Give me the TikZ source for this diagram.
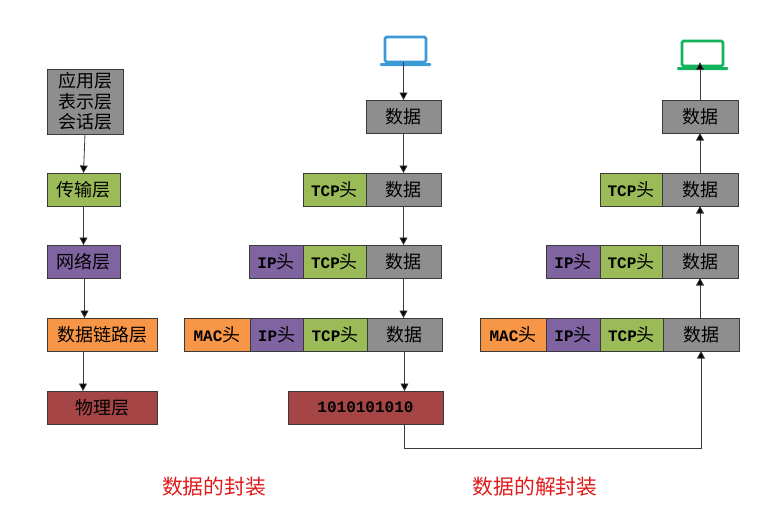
\documentclass[tikz,border=0pt]{standalone}
\usepackage{fontspec}
\setmainfont{Liberation Serif}
\setmonofont{Liberation Mono}
\newfontfamily\cjk{Noto Sans CJK SC}
\usetikzlibrary{arrows.meta,calc}
\definecolor{cgray}{HTML}{8E8E8E}
\definecolor{cgreen}{HTML}{9BBB59}
\definecolor{cpurple}{HTML}{8064A2}
\definecolor{corange}{HTML}{F79646}
\definecolor{cred}{HTML}{A54545}
\definecolor{cblue}{HTML}{3C9BD6}
\definecolor{cgrn}{HTML}{12B35C}
\definecolor{cedge}{HTML}{3A3A3A}
\definecolor{ctitle}{HTML}{E01A1A}
\newcommand{\lat}[1]{{\ttfamily\bfseries\fontsize{16}{21}\selectfont #1}}
\tikzset{
  x=1pt,y=-1pt,
  cellbox/.style={draw=cedge,line width=1pt,inner sep=0pt,outer sep=0pt,anchor=north west,align=center,text=black,font=\cjk\fontsize{18}{20.5}\selectfont},
  gbox/.style={cellbox,fill=cgray},
  tbox/.style={cellbox,fill=cgreen},
  pbox/.style={cellbox,fill=cpurple},
  obox/.style={cellbox,fill=corange},
  rbox/.style={cellbox,fill=cred},
  link/.style={draw=cedge,line width=0.8pt,-{Triangle[length=7.5pt,width=8pt,fill=black]}},
  screen/.style={draw=#1,line width=2.6pt,rounded corners=1.5pt,inner sep=0pt,outer sep=0pt,anchor=north west,minimum width=41pt,minimum height=25pt},
  lapbase/.style={fill=#1,rounded corners=1pt,inner sep=0pt,outer sep=0pt,anchor=north west,minimum width=51pt,minimum height=3pt},
  caption/.style={inner sep=0pt,text=ctitle,font=\cjk\fontsize{20.8}{24}\selectfont},
}
\newcommand{\cell}[7]{% name,style,x,y,w,h,text
  \node[#2,minimum width=#5pt,minimum height=#6pt] (#1) at (#3,#4) {#7};}
\begin{document}
\begin{tikzpicture}
\useasboundingbox (0,0) rectangle (766,522);
% left column
\cell{a1}{gbox}{47}{69}{76}{65}{应用层\\表示层\\会话层}
\cell{a2}{tbox}{47}{173}{73}{33}{传输层}
\cell{a3}{pbox}{47}{245}{73}{33}{网络层}
\cell{a4}{obox}{47}{318}{110}{33}{数据链路层}
\cell{a5}{rbox}{47}{391}{110}{33}{物理层}
\draw[link] (a1.south) -- (a2.north);
\draw[link] (a2.south) -- (a3.north);
\draw[link] ([xshift=1pt]a3.south) -- ([xshift=1pt]a3.south |- a4.north);
\draw[link] ([xshift=-19pt]a4.south) -- ([xshift=-19pt]a5.north);
% middle column
\node[screen=cblue] (bs) at (385,37) {};
\node[lapbase=cblue] (bb) at (380,63) {};
\cell{b1}{gbox}{366}{100}{75}{33}{数据}
\cell{b2t}{tbox}{303}{173}{63}{33}{\lat{TCP}头}
\cell{b2d}{gbox}{366}{173}{75}{33}{数据}
\cell{b3i}{pbox}{249}{245}{54}{33}{\lat{IP}头}
\cell{b3t}{tbox}{303}{245}{63}{33}{\lat{TCP}头}
\cell{b3d}{gbox}{366}{245}{75}{33}{数据}
\cell{b4m}{obox}{184}{318}{66}{33}{\lat{MAC}头}
\cell{b4i}{pbox}{250}{318}{53}{33}{\lat{IP}头}
\cell{b4t}{tbox}{303}{318}{64}{33}{\lat{TCP}头}
\cell{b4d}{gbox}{367}{318}{75}{33}{数据}
\cell{b5}{rbox}{288}{391}{155}{33}{\lat{1010101010}}
\draw[link] (b1.north |- bs.south) -- (b1.north);
\draw[link] (b1.south) -- (b2d.north);
\draw[link] (b2d.south) -- (b3d.north);
\draw[link] (b3d.south) -- (b3d.south |- b4d.north);
\draw[link] (b4d.south) -- (b4d.south |- b5.north);
% right column
\node[screen=cgrn] (cs) at (682,41) {};
\node[lapbase=cgrn] (cb) at (677,67) {};
\cell{c1}{gbox}{662}{100}{76}{33}{数据}
\cell{c2t}{tbox}{600}{173}{62}{33}{\lat{TCP}头}
\cell{c2d}{gbox}{662}{173}{76}{33}{数据}
\cell{c3i}{pbox}{546}{245}{54}{33}{\lat{IP}头}
\cell{c3t}{tbox}{600}{245}{62}{33}{\lat{TCP}头}
\cell{c3d}{gbox}{662}{245}{76}{33}{数据}
\cell{c4m}{obox}{480}{318}{66}{33}{\lat{MAC}头}
\cell{c4i}{pbox}{546}{318}{54}{33}{\lat{IP}头}
\cell{c4t}{tbox}{600}{318}{63}{33}{\lat{TCP}头}
\cell{c4d}{gbox}{663}{318}{76}{33}{数据}
\coordinate (ctip) at ($(cs.north)!0.85!(cs.south)$);
\draw[link] (c1.north) -- (c1.north |- ctip);
\draw[link] (c2d.north) -- (c1.south);
\draw[link] (c3d.north) -- (c2d.south);
\draw[link] (c3d.south |- c4d.north) -- (c3d.south);
\draw[link] (b5.south -| b4d.south) -- ++(0,24) -| (c4d.south);
% captions
\node[caption] (t1) at (214,487) {数据的封装};
\node[caption] (t2) at (535,487) {数据的解封装};
\end{tikzpicture}
\end{document}
